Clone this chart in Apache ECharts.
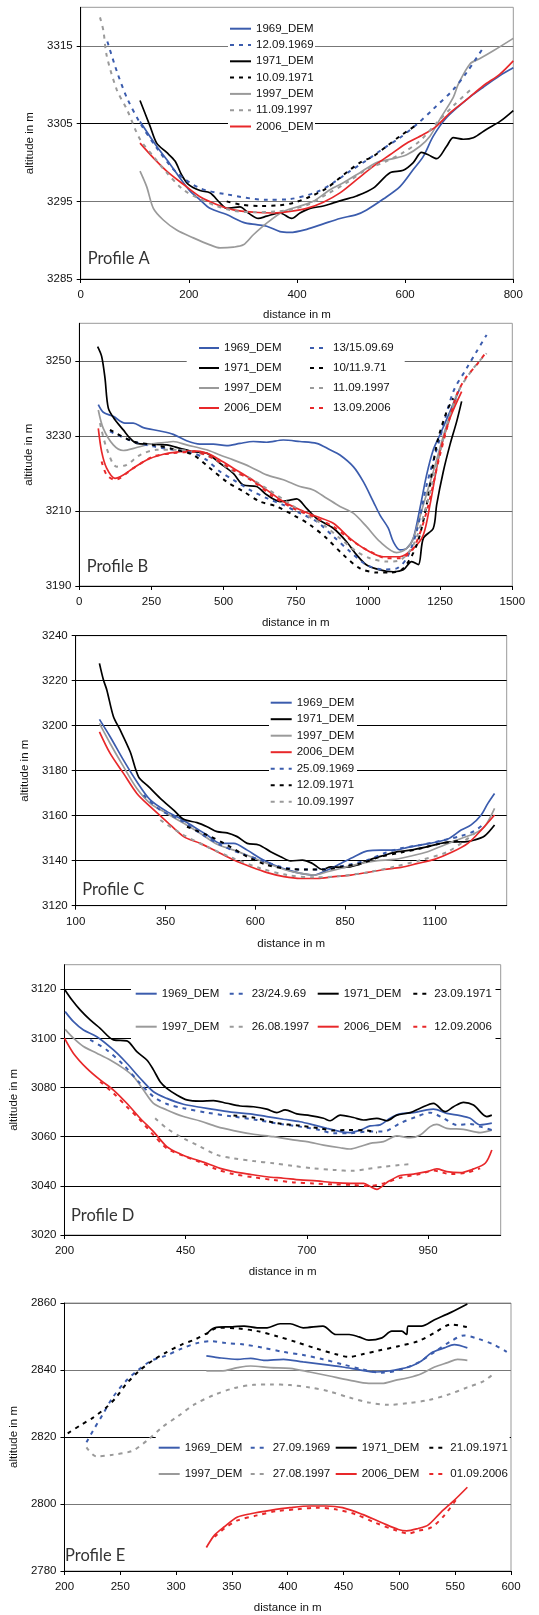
<!DOCTYPE html>
<html><head><meta charset="utf-8">
<script src="https://cdn.jsdelivr.net/npm/echarts@6/dist/echarts.min.js"></script>
<style>html,body{margin:0;padding:0;background:#fff}#c{width:539px;height:1615px}</style>
</head><body><div id="c"></div>
<script>
// ---------- Profile A ----------
const A_xTicks=[0,200,400,600,800];
const A_yTicks=[3285,3295,3305,3315];
const A_1969_DEM=[[109.7,3305.3],[140.5,3302.1],[159,3300.4],[200,3296.5],[220.6,3295.2],[239,3294.1],[270,3293.3],[300.8,3292.3],[325,3292.0],[344,3291.8],[368.6,3291.1],[387,3291.0],[418,3291.4],[448.7,3292.1],[479.5,3292.8],[510,3293.3],[528.8,3293.9],[559.6,3295.3],[590.4,3296.9],[615,3299.1],[633.6,3300.8],[652,3303.4],[676.7,3305.8],[713.6,3308.1],[744.5,3309.7],[775.3,3311.2],[800,3312.2]];
const A_12_09_1969=[[49.3,3315.6],[66.6,3311.8],[85.1,3308.4],[109.7,3305.1],[140.5,3301.9],[177.5,3298.7],[220.6,3296.7],[270,3295.9],[344,3295.2],[387,3295.3],[436.4,3296.2],[467.2,3297.4],[498,3298.9],[528.8,3300.3],[559.6,3301.8],[590.4,3303.2],[621.3,3304.9],[652.1,3306.9],[689,3309.4],[713.7,3311.6],[744.5,3314.8]];
const A_1971_DEM=[[109.7,3308.0],[128.2,3304.7],[140.5,3302.5],[159,3301.3],[174.4,3300.2],[186.7,3298.4],[199,3297.2],[220.6,3296.4],[239,3296.1],[257.6,3294.8],[270,3294.1],[294.6,3294.3],[310,3293.5],[328.5,3292.8],[344,3293.1],[368.6,3293.5],[390,3292.8],[405.5,3293.5],[424,3294.1],[448.7,3294.4],[467.2,3294.8],[485.7,3295.2],[510.3,3295.7],[541,3296.7],[572,3298.7],[596.6,3299.0],[615,3300.0],[630.4,3301.3],[642.7,3301.0],[658.2,3300.5],[676.7,3302.1],[689,3303.2],[707.5,3303.0],[726,3303.2],[750.7,3304.3],[775.3,3305.3],[800,3306.7]];
const A_10_09_1971=[[270,3295.0],[294.6,3294.6],[331.6,3294.4],[368.6,3294.5],[393.2,3294.8],[424,3295.6],[454.9,3296.7],[485.7,3298.4],[516.5,3300.0],[541,3300.8],[565.8,3302.1],[590.4,3303.4],[624.3,3305.0]];
const A_1997_DEM=[[109.7,3298.9],[122,3296.9],[134.4,3294.1],[152.8,3292.6],[177.5,3291.3],[208.3,3290.3],[239,3289.4],[257.6,3289.0],[282.3,3289.1],[300.8,3289.4],[319.3,3290.7],[344,3292.2],[374.7,3293.7],[405.5,3294.4],[430.2,3295.0],[461,3296.5],[485.7,3297.4],[516.5,3298.7],[547.3,3300.0],[578,3300.5],[602.8,3301.0],[627.4,3302.1],[645.9,3303.4],[664.4,3305.6],[689,3308.4],[698.3,3310.1],[719.8,3312.7],[738.3,3313.4],[763,3314.4],[800,3316.0]];
const A_11_09_1997=[[35.7,3318.7],[41.9,3317.0],[48,3313.8],[66.6,3309.4],[85.1,3306.9],[109.7,3303.0],[134.4,3300.8],[159,3298.7],[189.8,3296.5],[220.6,3295.3],[251.4,3294.4],[282.3,3293.8],[319.3,3293.6],[362.4,3293.7],[393.2,3294.0],[424,3294.7],[454.9,3295.9],[491.8,3297.4],[528.8,3299.1],[565.8,3300.2],[596.6,3301.3],[627.4,3302.8],[658.2,3305.1],[689,3307.3],[726,3309.7]];
const A_2006_DEM=[[109.7,3302.5],[134.4,3300.6],[159,3298.9],[189.8,3297.2],[220.6,3295.6],[251.4,3294.6],[282.3,3293.9],[319.3,3293.6],[356.3,3293.5],[387,3293.7],[418,3294.1],[448.7,3294.9],[479.5,3296.1],[510.3,3297.8],[541,3299.5],[571.9,3301.0],[602.8,3302.5],[633.6,3303.6],[658.2,3304.7],[682.9,3306.4],[713.7,3308.1],[744.5,3309.9],[775.3,3311.4],[800,3313.1]];

// ---------- Profile B ----------
const B_xTicks=[0,250,500,750,1000,1250,1500];
const B_yTicks=[3190,3210,3230,3250];
const B_1969_DEM=[[65.8,3238.3],[83,3236.3],[117.8,3235.2],[158.2,3233.4],[187,3233.4],[221.7,3232.2],[279.4,3231.3],[325.6,3230.4],[371.8,3228.7],[418,3227.8],[464.2,3227.8],[510.4,3227.4],[556.6,3228.0],[602.8,3228.5],[649,3228.3],[706.7,3228.9],[764.4,3228.5],[822.2,3228.0],[868.4,3226.3],[903,3224.9],[949.2,3221.8],[983.8,3217.8],[1018.5,3212.5],[1041.6,3208.9],[1070.4,3205.4],[1087.8,3201.8],[1110.9,3199.6],[1134,3200.0],[1157,3202.7],[1180,3210.7],[1203.2,3219.6],[1226.3,3226.3],[1249.4,3230.3],[1284,3236.5],[1318.7,3242.7]];
const B_13_15_09_69=[[106.2,3231.2],[187,3228.5],[256.4,3227.2],[325.6,3226.3],[395,3225.4],[441.1,3223.6],[487.3,3220.5],[533.5,3218.3],[591.2,3215.6],[649,3213.4],[706.7,3211.6],[764.4,3209.4],[822.2,3207.2],[880,3203.2],[937.6,3199.2],[995.4,3195.6],[1053.1,3194.4],[1099.3,3194.7],[1134,3197.4],[1168.6,3204.5],[1203.2,3216.9],[1249.4,3229.4],[1295.6,3241.8],[1341.8,3248.0],[1376.4,3252.5],[1411,3256.9]];
const B_1971_DEM=[[63.5,3253.8],[77.4,3251.2],[89,3245.4],[100.5,3237.4],[123.6,3234.3],[152.4,3231.6],[175.5,3229.4],[198.6,3228.0],[244.8,3227.8],[302.5,3227.6],[348.7,3226.7],[395,3225.8],[441.1,3225.4],[487.3,3222.7],[533.5,3220.0],[568.1,3216.9],[614.3,3216.5],[649,3214.3],[695.2,3212.5],[729.8,3212.9],[752.9,3213.2],[787.5,3210.7],[822.2,3208.0],[880,3205.4],[926,3201.8],[960.7,3198.3],[995.4,3195.6],[1041.6,3194.3],[1087.8,3193.8],[1122.4,3194.3],[1151.3,3196.5],[1174.4,3195.7],[1191.7,3202.7],[1226.3,3205.4],[1237.9,3211.6],[1261,3220.5],[1284,3227.6],[1307.2,3233.8],[1324.5,3239.2]];
const B_10_11_9_71=[[106.2,3231.6],[187,3228.5],[256.4,3227.6],[325.6,3226.5],[395,3224.9],[452.7,3221.4],[510.4,3217.8],[568.1,3215.2],[625.9,3212.5],[683.6,3211.2],[741.3,3208.9],[799,3206.3],[856.8,3202.7],[914.5,3198.3],[972.3,3194.7],[1030,3193.6],[1076.2,3193.6],[1122.4,3194.7],[1168.6,3200.9],[1203.2,3211.6],[1237.9,3227.6],[1272.5,3236.5],[1295.6,3240.0]];
const B_1997_DEM=[[65.8,3236.9],[83,3232.0],[117.8,3227.6],[152.4,3226.1],[198.6,3226.9],[244.8,3227.8],[302.5,3228.3],[325.6,3228.5],[371.8,3227.6],[441.1,3226.3],[487.3,3224.9],[533.5,3223.6],[591.2,3221.8],[649,3219.6],[706.7,3218.3],[764.4,3216.5],[810.6,3215.6],[856.8,3213.4],[903,3211.2],[949.2,3209.4],[995.4,3205.8],[1041.6,3201.8],[1099.3,3198.9],[1134,3200.0],[1157,3202.7],[1191.7,3211.6],[1226.3,3220.5],[1272.5,3232.9],[1307.2,3240.0]];
const B_11_09_1997=[[71.6,3233.4],[94.7,3226.7],[129.3,3221.8],[164,3222.3],[210.2,3224.9],[268,3226.3],[325.6,3226.3],[395,3225.8],[464.2,3224.0],[533.5,3220.5],[591.2,3218.7],[649,3216.0],[718.2,3212.5],[787.5,3208.9],[845.3,3206.3],[903,3202.7],[960.7,3199.2],[1006.9,3197.4],[1064.7,3196.5],[1110.9,3196.9],[1157,3200.9],[1203.2,3211.6],[1249.4,3225.8],[1307.2,3240.9],[1364.9,3248.0],[1411,3252.0]];
const B_2006_DEM=[[65.8,3232.0],[77.4,3225.8],[94.7,3221.4],[123.6,3218.7],[152.4,3219.6],[187,3221.4],[233.3,3223.6],[291,3225.1],[348.7,3225.8],[395,3226.0],[441.1,3225.4],[487.3,3223.6],[533.5,3221.4],[591.2,3218.7],[649,3215.6],[706.7,3212.5],[764.4,3210.3],[822.2,3208.5],[880,3206.7],[937.6,3202.7],[995.4,3199.6],[1053.1,3197.8],[1110.9,3197.8],[1157,3200.0],[1191.7,3203.6],[1214.8,3211.6],[1249.4,3225.8],[1284,3234.7],[1324.5,3241.8]];
const B_13_09_2006=[[77.4,3223.2],[94.7,3219.6],[123.6,3218.3],[187,3221.4],[256.4,3224.5],[325.6,3225.4],[395,3225.8],[464.2,3224.0],[533.5,3220.9],[602.8,3217.8],[672,3213.8],[741.3,3210.7],[810.6,3208.5],[880,3205.8],[949.2,3201.8],[1007,3199.2],[1064.7,3197.4],[1110.9,3197.4],[1157,3200.0],[1203.2,3209.8],[1249.4,3224.9],[1307.2,3240.9],[1341.8,3245.8],[1376.4,3248.9],[1411,3252.5]];

// ---------- Profile C ----------
const C_xTicks=[100,350,600,850,1100];
const C_yTicks=[3120,3140,3160,3180,3200,3220,3240];
const C_1969_DEM=[[166.1,3202.8],[195.9,3195.1],[233.1,3184.7],[270.3,3175.1],[307.6,3167.0],[354.1,3161.8],[391.3,3158.8],[428.5,3155.1],[465.8,3151.4],[503,3147.7],[540.2,3147.7],[577.5,3144.7],[614.7,3141.0],[651.9,3138.1],[689.2,3135.9],[726.4,3134.4],[763.6,3133.6],[800.8,3135.9],[838.1,3138.8],[875.3,3141.8],[912.5,3144.4],[949.7,3144.7],[987,3144.7],[1024.2,3145.9],[1061.4,3147.0],[1098.7,3148.1],[1135.9,3149.6],[1173.1,3153.6],[1201,3155.9],[1229,3160.3],[1247.6,3165.5],[1266.2,3169.9]];
const C_1971_DEM=[[166.1,3227.7],[177.3,3220.3],[186.6,3215.9],[205.2,3204.0],[223.8,3198.1],[251.7,3188.4],[275,3177.3],[302.9,3172.9],[335.5,3167.7],[372.7,3162.5],[400.6,3158.4],[437.9,3156.9],[465.8,3155.1],[493.7,3152.9],[521.6,3152.4],[549.5,3150.7],[577.5,3147.7],[610,3147.0],[642.6,3144.0],[670.6,3141.8],[698.5,3139.9],[731.1,3140.3],[759,3138.8],[786.9,3136.1],[810.2,3137.3],[847.4,3137.0],[884.6,3138.1],[921.9,3140.6],[959.1,3142.4],[996.3,3144.0],[1033.5,3144.7],[1070.8,3145.9],[1108,3147.4],[1145.2,3148.4],[1182.4,3148.4],[1210.4,3149.2],[1238.3,3151.0],[1266.2,3155.9]];
const C_1997_DEM=[[166.1,3201.0],[195.9,3192.1],[233.1,3181.8],[270.3,3172.1],[307.6,3165.5],[354.1,3161.0],[400.6,3156.6],[447.2,3152.1],[493.7,3147.3],[540.2,3144.7],[586.8,3141.8],[633.3,3138.8],[679.9,3136.1],[726.4,3134.4],[763.6,3133.6],[800.8,3135.1],[847.4,3137.0],[893.9,3138.8],[940.4,3140.0],[987,3140.6],[1033.5,3142.1],[1080,3144.0],[1126.6,3147.0],[1173.1,3149.9],[1210.4,3152.1],[1238.3,3155.1],[1266.2,3163.3]];
const C_2006_DEM=[[166.1,3197.3],[195.9,3187.7],[233.1,3178.8],[270.3,3169.9],[307.6,3164.0],[354.1,3157.3],[400.6,3150.7],[447.2,3147.7],[493.7,3144.0],[540.2,3140.3],[586.8,3137.3],[633.3,3134.7],[679.9,3132.9],[726.4,3132.1],[772.9,3132.1],[819.5,3132.9],[866,3133.6],[912.5,3134.8],[959.1,3136.1],[1005.6,3137.0],[1052.2,3138.8],[1098.7,3140.6],[1145.2,3143.6],[1191.8,3147.7],[1229,3153.6],[1266.2,3160.3]];
const C_25_09_1969=[[288.9,3169.2],[335.5,3162.5],[391.3,3158.1],[447.2,3152.1],[503,3147.0],[558.8,3143.3],[614.7,3140.3],[670.6,3137.3],[726.4,3136.1],[782.3,3136.1],[819.5,3137.0],[866,3138.4],[912.5,3140.3],[959.1,3143.3],[1005.6,3145.5],[1061.4,3147.0],[1117.3,3148.9],[1173.1,3151.0],[1210.4,3153.2],[1238.3,3156.6]];
const C_12_09_1971=[[409.9,3155.1],[465.8,3151.4],[521.6,3147.0],[577.5,3141.8],[633.3,3138.1],[689.2,3136.4],[745,3136.1],[791.6,3136.1],[838.1,3137.3],[893.9,3138.8],[949.7,3141.8],[1005.6,3143.6],[1061.4,3145.5],[1117.3,3147.7],[1173.1,3148.9]];
const C_10_09_1997=[[335.5,3158.1],[400.6,3151.4],[465.8,3146.2],[540.2,3141.0],[614.7,3136.6],[689.2,3133.6],[763.6,3132.6],[838.1,3133.2],[912.5,3134.8],[987,3137.3],[1061.4,3140.3],[1135.9,3144.0],[1210.4,3152.1]];

// ---------- Profile D ----------
const D_xTicks=[200,450,700,950];
const D_yTicks=[3020,3040,3060,3080,3100,3120];
const D_1969_DEM=[[201.4,3110.9],[218.6,3106.8],[239.2,3103.4],[266.7,3100.7],[301.1,3095.3],[328.6,3089.9],[356.1,3083.8],[383.6,3078.3],[411.1,3075.6],[445.5,3073.2],[479.9,3072.0],[514.3,3070.9],[548.7,3069.9],[583,3069.3],[617.5,3068.2],[651.8,3067.1],[686.2,3066.1],[713.8,3064.8],[741.3,3063.4],[768.8,3062.1],[789.4,3061.7],[810,3062.7],[830.7,3064.4],[851.3,3064.8],[871.9,3067.5],[892.6,3069.3],[920,3069.8],[947.6,3070.9],[961.3,3071.2],[988.8,3069.5],[1016.3,3068.6],[1037,3067.5],[1057.6,3064.8],[1081.7,3065.5]];
const D_23_24_9_69=[[253,3099.4],[287.3,3095.3],[321.7,3089.2],[356.1,3081.7],[383.6,3076.3],[411.1,3073.3],[445.5,3071.6],[493.6,3069.8],[548.7,3068.2],[596.8,3066.8],[645,3065.2],[686.2,3064.1],[727.5,3062.7],[755,3061.4],[789.4,3061.4],[823.8,3062.1],[858.2,3062.1],[892.6,3065.5],[927,3068.2],[954.5,3069.8],[982,3067.5],[1009.5,3064.8],[1037,3065.2],[1057.6,3064.1],[1081.7,3062.7]];
const D_1971_DEM=[[200,3120.0],[215.1,3115.7],[232.3,3111.6],[253,3107.5],[273.6,3104.1],[301.1,3099.4],[328.6,3099.0],[349.2,3094.6],[369.9,3091.2],[383.6,3087.2],[397.4,3082.4],[411.1,3079.7],[431.7,3077.0],[452.4,3075.0],[479.9,3074.5],[507.4,3074.7],[534.9,3073.6],[562.4,3072.5],[589.9,3072.2],[617.5,3071.2],[638.1,3069.8],[655.3,3070.9],[679.4,3069.3],[706.9,3068.6],[734.4,3067.5],[748.1,3066.5],[768.8,3068.8],[796.3,3067.8],[817,3066.8],[844.5,3067.5],[865.1,3066.5],[885.7,3068.8],[913.3,3069.8],[933.9,3071.6],[961.3,3073.6],[985.4,3070.2],[1002.6,3072.2],[1023.2,3074.0],[1043.8,3072.9],[1071.3,3068.2],[1081.7,3068.8]];
const D_23_09_1971=[[548.7,3068.6],[590,3067.8],[638.1,3065.5],[686.2,3064.5],[727.5,3063.4],[755,3062.5],[782.5,3062.7],[823.8,3062.5],[844.5,3061.7]];
const D_1997_DEM=[[201.4,3103.7],[218.6,3100.1],[239.2,3096.7],[266.7,3094.0],[294.2,3091.2],[321.7,3087.8],[342.4,3084.5],[363,3079.0],[383.6,3073.6],[411.1,3070.9],[445.5,3068.2],[479.9,3066.4],[514.3,3064.1],[548.7,3062.5],[590,3061.0],[631.2,3060.0],[665.5,3058.9],[700,3058.0],[734.4,3056.6],[768.8,3055.5],[789.4,3055.0],[810,3056.0],[830.7,3057.3],[858.2,3058.0],[885.7,3060.3],[913.3,3059.6],[933.9,3060.7],[954.5,3064.1],[968.2,3065.0],[988.8,3063.4],[1023.2,3063.0],[1057.6,3061.7],[1081.7,3062.7]];
const D_26_08_1997=[[387.1,3067.5],[411.1,3063.4],[445.5,3059.3],[479.9,3056.0],[514.3,3052.6],[548.7,3051.2],[590,3050.1],[631.2,3049.2],[672.5,3048.1],[713.8,3047.1],[755,3046.5],[796.3,3046.1],[823.8,3046.9],[858.2,3047.8],[892.6,3048.5],[913.3,3048.8]];
const D_2006_DEM=[[200,3100.1],[218.6,3093.9],[246.1,3087.8],[273.6,3083.1],[301.1,3079.0],[328.6,3073.6],[356.1,3067.5],[383.6,3062.1],[411.1,3056.0],[438.6,3053.0],[466.2,3050.9],[493.6,3049.2],[521.2,3047.1],[548.7,3045.8],[583,3044.7],[617.5,3043.7],[651.8,3043.1],[686.2,3042.4],[720.6,3042.0],[755,3041.3],[789.4,3041.0],[816.9,3041.0],[830.7,3039.7],[844.5,3038.6],[865.1,3041.4],[892.6,3044.2],[920,3044.8],[947.6,3045.8],[968.2,3046.9],[988.8,3045.8],[1016.3,3045.4],[1043.8,3046.9],[1068,3049.2],[1081.7,3054.6]];
const D_12_09_2006=[[273.6,3082.4],[301.1,3077.7],[328.6,3072.2],[356.1,3066.8],[383.6,3060.7],[411.1,3055.3],[445.5,3052.2],[479.9,3049.6],[514.3,3046.7],[548.7,3044.8],[590,3043.5],[631.2,3042.4],[672.5,3041.4],[713.8,3041.0],[755,3040.6],[796.3,3040.4],[823.8,3039.9],[858.2,3041.0],[892.6,3043.3],[933.9,3044.8],[961.3,3046.2],[995.7,3044.8],[1030,3045.4],[1057.6,3047.1]];

// ---------- Profile E ----------
const E_xTicks=[200,250,300,350,400,450,500,550,600];
const E_yTicks=[2780,2800,2820,2840,2860];
const E_1969_DEM=[[327.1,2844.2],[337.4,2843.7],[355,2843.2],[366.8,2843.5],[378.5,2842.9],[396.2,2843.2],[413.8,2842.4],[431.5,2841.7],[449.1,2840.9],[466.8,2839.9],[478.5,2839.4],[490.3,2839.7],[502.1,2840.4],[510.9,2841.2],[519.7,2842.7],[528.5,2845.1],[540.3,2846.6],[549.1,2847.6],[560.9,2846.6]];
const E_27_09_1969=[[219.7,2818.4],[225.6,2821.9],[234.4,2826.8],[243.2,2831.8],[255,2836.7],[266.8,2840.2],[278.5,2842.9],[290.3,2844.2],[305,2846.4],[319.7,2848.1],[331.5,2848.6],[343.2,2848.1],[360.9,2847.6],[378.5,2846.6],[396.2,2845.4],[413.8,2844.5],[431.5,2843.2],[449.1,2841.7],[466.8,2840.2],[484.4,2839.2],[502.1,2840.2],[516.8,2842.2],[531.5,2845.4],[546.2,2848.6],[557.9,2850.3],[569.7,2849.4],[584.4,2847.6],[596.2,2845.4]];
const E_1971_DEM=[[327.1,2850.6],[334.4,2852.6],[349.1,2852.9],[360.9,2853.1],[372.6,2852.6],[381.5,2852.6],[393.2,2853.8],[402.1,2853.8],[413.8,2852.6],[431.5,2853.1],[443.2,2850.6],[455,2850.6],[463.8,2849.9],[472.6,2848.9],[484.4,2849.6],[493.2,2851.6],[502.1,2851.6],[506.5,2850.6],[507.9,2853.1],[519.7,2853.1],[531.5,2855.0],[546.2,2857.2],[560.9,2859.7]];
const E_21_09_1971=[[202.9,2821.1],[213.8,2823.4],[225.6,2825.8],[237.4,2828.8],[246.2,2831.8],[255,2835.7],[266.8,2839.7],[278.5,2842.7],[290.3,2845.1],[305,2847.6],[316.8,2849.1],[328.5,2851.1],[337.4,2852.6],[355,2852.4],[372.6,2851.6],[390.3,2850.1],[407.9,2848.3],[425.6,2846.4],[443.2,2844.7],[455,2843.9],[466.8,2844.7],[481.5,2845.8],[499.1,2847.1],[516.8,2848.6],[531.5,2851.1],[546.2,2853.6],[560.9,2852.8]];
const E_1997_DEM=[[327.1,2839.7],[340.3,2839.7],[355,2840.7],[366.8,2841.2],[384.4,2840.7],[402.1,2840.5],[419.7,2839.4],[437.4,2838.2],[455,2837.0],[472.6,2836.0],[484.4,2836.0],[496.2,2836.9],[507.9,2837.7],[519.7,2838.9],[531.5,2840.9],[543.2,2842.2],[552.1,2843.2],[560.9,2842.9]];
const E_27_08_1997=[[219.7,2816.9],[228.5,2814.2],[243.2,2814.7],[260.9,2815.9],[275.6,2819.4],[287.4,2822.9],[302.1,2826.3],[316.8,2829.8],[334.4,2832.6],[352.1,2834.6],[369.7,2835.6],[384.4,2835.7],[402.1,2835.5],[419.7,2834.8],[437.4,2833.6],[455,2831.8],[472.6,2830.3],[490.3,2829.6],[507.9,2830.1],[525.6,2831.0],[543.2,2832.6],[560.9,2834.8],[575.6,2836.7],[584.4,2838.9]];
const E_2006_DEM=[[327.1,2787.0],[334.4,2790.7],[343.2,2793.2],[355,2796.1],[366.8,2797.1],[384.4,2798.1],[402.1,2798.9],[419.7,2799.4],[434.4,2799.4],[449.1,2798.9],[466.8,2796.9],[484.4,2794.4],[499.1,2792.4],[506.5,2792.0],[516.8,2792.7],[525.6,2793.7],[537.4,2797.6],[549.1,2801.1],[560.9,2805.0]];
const E_01_09_2006=[[334.4,2790.2],[343.2,2792.7],[355,2795.1],[372.6,2796.6],[390.3,2797.9],[407.9,2798.4],[425.6,2798.9],[443.2,2798.4],[460.9,2796.9],[478.5,2794.4],[496.2,2792.2],[507.9,2791.2],[516.8,2792.0],[528.5,2793.0],[540.3,2796.6],[552.1,2801.9]];

// ---------- styling / layout ----------
const BLUE='#3b5cad', BLACK='#000', GRAY='#9a9a9a', RED='#e8282a';
const FONT='"Liberation Sans", Arial, sans-serif';
const GRIDS=[
 {left:80.7,top:7.3,width:432.6,height:271.7},
 {left:79.3,top:323.3,width:433,height:262.7},
 {left:75.7,top:635.7,width:431,height:270},
 {left:64.3,top:964.7,width:436.4,height:270.3},
 {left:57.7,top:1303,width:453.3,height:269.7}
];
const RANGES=[
 {x:[0,800],y:[3285,3320],xt:A_xTicks,yt:A_yTicks,gc:['#000','#777','#000','#777'],ng:[30,38]},
 {x:[0,1500],y:[3190,3260],xt:B_xTicks,yt:B_yTicks,gc:['#000','#666','#666','#666'],ng:[31,37]},
 {x:[100,1300],y:[3120,3240],xt:C_xTicks,yt:C_yTicks,gc:['#000'],ng:[32,38.5]},
 {x:[200,1100],y:[3020,3130],xt:D_xTicks,yt:D_yTicks,gc:['#000'],ng:[31,37]},
 {x:[200,600],y:[2780,2860],xt:E_xTicks,yt:E_yTicks,gc:['#000','#777','#000','#777','#777'],ng:[31,39]}
];
const lbl={fontFamily:FONT,fontSize:11.5,color:'#111'};
const fmt=v=>String(v);
const grid=GRIDS.map(g=>Object.assign({show:true,borderColor:'#999',borderWidth:1,containLabel:false},g));
const xAxis=RANGES.map((r,i)=>({type:'value',gridIndex:i,min:r.x[0],max:r.x[1],
  name:'distance in m',nameLocation:'middle',nameGap:r.ng[0],nameTextStyle:lbl,
  axisLine:{show:true,lineStyle:{color:'#000',width:1}},
  axisTick:{show:true,length:4,customValues:r.xt,lineStyle:{color:'#000'}},
  axisLabel:Object.assign({customValues:r.xt,margin:10,formatter:fmt},lbl),
  splitLine:{show:false}}));
const yAxis=RANGES.map((r,i)=>({type:'value',gridIndex:i,min:r.y[0],max:r.y[1],
  name:'altitude in m',nameLocation:'middle',nameGap:r.ng[1],nameTextStyle:lbl,
  axisLine:{show:true,lineStyle:{color:'#000',width:1}},
  axisTick:{show:true,length:4,customValues:r.yt,lineStyle:{color:'#000'}},
  axisLabel:Object.assign({customValues:r.yt,margin:8,formatter:fmt},lbl),
  splitLine:{show:true,lineStyle:{color:r.gc,width:1}}}));

function S(name,data,color,dashed,i){
  return {name,type:'line',data,xAxisIndex:i,yAxisIndex:i,symbol:'none',smooth:0.3,silent:true,
    lineStyle:{color,width:dashed?2:1.7,type:dashed?[4,5]:'solid'},itemStyle:{color},z:dashed?3:2};
}
const series=[
 S('1969_DEM',A_1969_DEM,BLUE,false,0),S('12.09.1969',A_12_09_1969,BLUE,true,0),
 S('1971_DEM',A_1971_DEM,BLACK,false,0),S('10.09.1971',A_10_09_1971,BLACK,true,0),
 S('1997_DEM',A_1997_DEM,GRAY,false,0),S('11.09.1997',A_11_09_1997,GRAY,true,0),
 S('2006_DEM',A_2006_DEM,RED,false,0),
 S('1969_DEM',B_1969_DEM,BLUE,false,1),S('13/15.09.69',B_13_15_09_69,BLUE,true,1),
 S('1971_DEM',B_1971_DEM,BLACK,false,1),S('10/11.9.71',B_10_11_9_71,BLACK,true,1),
 S('1997_DEM',B_1997_DEM,GRAY,false,1),S('11.09.1997',B_11_09_1997,GRAY,true,1),
 S('2006_DEM',B_2006_DEM,RED,false,1),S('13.09.2006',B_13_09_2006,RED,true,1),
 S('1969_DEM',C_1969_DEM,BLUE,false,2),S('1971_DEM',C_1971_DEM,BLACK,false,2),
 S('1997_DEM',C_1997_DEM,GRAY,false,2),S('2006_DEM',C_2006_DEM,RED,false,2),
 S('25.09.1969',C_25_09_1969,BLUE,true,2),S('12.09.1971',C_12_09_1971,BLACK,true,2),
 S('10.09.1997',C_10_09_1997,GRAY,true,2),
 S('1969_DEM',D_1969_DEM,BLUE,false,3),S('23/24.9.69',D_23_24_9_69,BLUE,true,3),
 S('1971_DEM',D_1971_DEM,BLACK,false,3),S('23.09.1971',D_23_09_1971,BLACK,true,3),
 S('1997_DEM',D_1997_DEM,GRAY,false,3),S('26.08.1997',D_26_08_1997,GRAY,true,3),
 S('2006_DEM',D_2006_DEM,RED,false,3),S('12.09.2006',D_12_09_2006,RED,true,3),
 S('1969_DEM',E_1969_DEM,BLUE,false,4),S('27.09.1969',E_27_09_1969,BLUE,true,4),
 S('1971_DEM',E_1971_DEM,BLACK,false,4),S('21.09.1971',E_21_09_1971,BLACK,true,4),
 S('1997_DEM',E_1997_DEM,GRAY,false,4),S('27.08.1997',E_27_08_1997,GRAY,true,4),
 S('2006_DEM',E_2006_DEM,RED,false,4),S('01.09.2006',E_01_09_2006,RED,true,4)
];
function L(data,left,top,w,gap){
  return {orient:'vertical',left,top,data,itemWidth:w,itemHeight:12,itemGap:gap,padding:0,
    selectedMode:false,itemStyle:{color:'rgba(0,0,0,0)',borderColor:'rgba(0,0,0,0)',borderWidth:0,opacity:0},
    textStyle:Object.assign({lineHeight:12},lbl)};
}
const legend=[
 L(['1969_DEM','12.09.1969','1971_DEM','10.09.1971','1997_DEM','11.09.1997','2006_DEM'],229,22.7,21,4.3),
 L(['1969_DEM','1971_DEM','1997_DEM','2006_DEM'],198,342,20,8),
 L(['13/15.09.69','10/11.9.71','11.09.1997','13.09.2006'],309,342,18,8),
 L(['1969_DEM','1971_DEM','1997_DEM','2006_DEM','25.09.1969','12.09.1971','10.09.1997'],269.7,696.7,21,4.5),
 L(['1969_DEM','1997_DEM'],134.7,987.7,21,21),
 L(['23/24.9.69','26.08.1997'],228.7,987.7,17,21),
 L(['1971_DEM','2006_DEM'],316.7,987.7,21,21),
 L(['23.09.1971','12.09.2006'],412.3,987.7,16,21),
 L(['1969_DEM','1997_DEM'],157.7,1441.7,21,14.3),
 L(['27.09.1969','27.08.1997'],249.7,1441.7,17,14.3),
 L(['1971_DEM','2006_DEM'],334.7,1441.7,21,14.3),
 L(['21.09.1971','01.09.2006'],428.3,1441.7,16,14.3)
];
function R(x,y,w,h){return {type:'rect',shape:{x,y,width:w,height:h},style:{fill:'#fff'},z:1,silent:true};}
function T(text,x,y){return {type:'text',x,y,z:10,silent:true,style:{text,fill:'#333',font:'16.5px Lato, "Liberation Sans", sans-serif',textVerticalAlign:'middle'}};}
const graphic={elements:[
 R(228,20,87,113),R(186.7,338,218,76),R(269,694,88,115),R(131,980,364.5,65),R(155.7,1434,354,47),
 T('Profile A',87.7,259),T('Profile B',86.7,567),T('Profile C',82.3,890),T('Profile D',71,1216),T('Profile E',65,1556)
]};
const chart=echarts.init(document.getElementById('c'),null,{renderer:'canvas'});
chart.setOption({animation:false,backgroundColor:'#fff',grid,xAxis,yAxis,series,legend,graphic});
</script></body></html>
